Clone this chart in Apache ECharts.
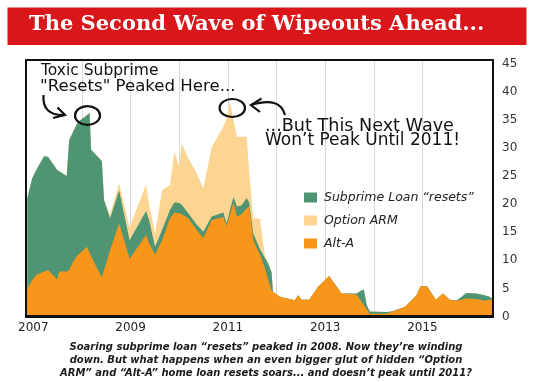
<!DOCTYPE html>
<html><head><meta charset="utf-8">
<script src="https://cdn.jsdelivr.net/npm/echarts@6/dist/echarts.min.js"></script>
<style>html,body{margin:0;padding:0;background:#fff}#c{width:538px;height:382px}</style>
</head><body><div id="c"></div>
<script>
// ---- data (decimal years, shared by all three stacked series) ----
const years = [2006.875, 2006.977, 2007.06, 2007.224, 2007.306, 2007.491, 2007.532, 2007.686, 2007.737, 2007.84,
  2007.922, 2008.107, 2008.158, 2008.189, 2008.409, 2008.456, 2008.579, 2008.764, 2008.98, 2009.318,
  2009.38, 2009.503, 2009.647, 2009.811, 2009.899, 2010.002, 2010.051, 2010.187, 2010.359, 2010.495,
  2010.667, 2010.906, 2010.975, 2011.043, 2011.115, 2011.187, 2011.283, 2011.386, 2011.439, 2011.522,
  2011.659, 2011.762, 2011.83, 2011.899, 2011.926, 2012.07, 2012.378, 2012.446, 2012.515, 2012.671,
  2012.856, 2013.082, 2013.337, 2013.645, 2013.733, 2013.795, 2013.856, 2013.918, 2014.261, 2014.363,
  2014.637, 2014.877, 2014.959, 2015.094, 2015.273, 2015.423, 2015.561, 2015.71, 2015.903, 2016.109,
  2016.279, 2016.382, 2016.444];
const altA = [5.0, 6.5, 7.4, 8.0, 8.3, 6.6, 8.0, 8.0, 8.3, 10.1,
  11.0, 12.4, 11.3, 10.7, 7.0, 8.3, 11.8, 16.6, 10.3, 14.5,
  13.1, 11.0, 13.6, 17.5, 18.5, 18.4, 18.2, 17.5, 15.4, 14.0,
  17.2, 17.7, 16.1, 18.2, 20.2, 17.8, 18.2, 19.3, 19.6, 13.6,
  11.0, 8.6, 6.5, 4.6, 4.4, 3.5, 2.9, 3.8, 3.0, 3.0,
  5.3, 7.2, 4.1, 3.9, 2.8, 2.0, 1.3, 0.5, 0.5, 0.8,
  1.7, 3.8, 5.4, 5.4, 3.0, 4.1, 3.0, 2.8, 3.2, 3.1,
  2.8, 3.0, 3.1];
const subprime = [16.0, 18.1, 18.7, 20.6, 20.1, 19.5, 17.8, 17.0, 23.1, 23.2,
  23.7, 23.5, 25.0, 19.0, 20.7, 12.4, 5.7, 5.9, 3.3, 4.3,
  4.1, 1.4, 1.8, 1.5, 1.8, 1.8, 1.7, 0.9, 1.0, 1.1,
  0.6, 0.8, 0.5, 0.8, 1.1, 1.8, 1.6, 1.8, 0.7, 1.2,
  1.0, 1.8, 2.9, 3.3, 0, 0, 0, 0, 0, 0,
  0, 0, 0, 0.2, 1.8, 2.8, 0.7, 0.4, 0.3, 0.1,
  0, 0, 0, 0, 0, 0, 0, 0.1, 1.0, 1.0,
  1.0, 0.5, 0];
const optionArm = [0, 0, 0, 0, 0, 0, 0, 0, 0, 0,
  0, 0, 0, 0, 0, 0, 0.6, 1.2, 2.3, 4.7,
  2.8, 2.4, 7.1, 4.4, 9.0, 6.5, 10.9, 9.8, 9.1, 7.7,
  12.4, 15.3, 18.7, 19.3, 13.7, 12.4, 12.2, 10.9, 5.4, 2.7,
  5.4, 0.5, 0, 0, 0, 0, 0, 0, 0, 0,
  0, 0, 0, 0, 0, 0, 0, 0, 0, 0,
  0, 0, 0, 0, 0, 0, 0, 0, 0, 0,
  0, 0, 0];
const seriesNames = ['Subprime Loan \u201cresets\u201d', 'Option ARM', 'Alt-A'];
const xLabelYears = [2007, 2009, 2011, 2013, 2015];
const gridYears = [2008, 2009, 2010, 2011, 2012, 2013, 2014, 2015];
const yTicks = [0, 5, 10, 15, 20, 25, 30, 35, 40, 45];
const titleText = 'The Second Wave of Wipeouts Ahead...';
const captionLines = [
  'Soaring subprime loan \u201cresets\u201d peaked in 2008. Now they\u2019re winding',
  'down. But what happens when an even bigger glut of hidden \u201cOption',
  'ARM\u201d and \u201cAlt-A\u201d home loan resets soars... and doesn\u2019t peak until 2011?'
];
const note1 = ['Toxic Subprime', '"Resets" Peaked Here...'];
const note2 = ['...But This Next Wave', 'Won\u2019t Peak Until 2011!'];

// ---- styles ----
const C = { alt: '#F7961B', sub: '#4F9574', opt: '#FDD593', red: '#D9161A', ink: '#111' };
const G = { left: 26, right: 45, top: 60, bottom: 65.5 };
const W = 538, H = 382;

const chart = echarts.init(document.getElementById('c'), null, { renderer: 'canvas' });

// Stack order (bottom -> top): Alt-A, Subprime, Option ARM.
// Each band is drawn as a filled area down to 0 of its cumulative top; upper bands are painted first.
const layers = [altA, subprime, optionArm];
function cumulative(upTo) {
  return years.map((y, i) => {
    let s = 0;
    for (let k = 0; k <= upTo; k++) s += layers[k][i];
    return [y, +s.toFixed(2)];
  });
}
function mk(name, data, color, z) {
  return {
    name, type: 'line', symbol: 'none', silent: true, z,
    data,
    lineStyle: { width: 0, color }, itemStyle: { color },
    areaStyle: { color, opacity: 1 }, emphasis: { disabled: true }
  };
}

const handFont = (size) => 'normal ' + size + 'px "DejaVu Sans"';
const plotW = W - G.left - G.right, plotH = H - G.top - G.bottom;

chart.setOption({
  animation: false,
  backgroundColor: '#fff',
  grid: { left: G.left, right: G.right, top: G.top, bottom: G.bottom, show: false },
  xAxis: {
    type: 'value', min: 2006.85, max: 2016.45,
    axisLine: { show: false },
    axisTick: { show: false, customValues: gridYears },
    splitLine: { show: true, lineStyle: { color: '#dadada', width: 1 } },
    axisLabel: { customValues: xLabelYears, margin: 5, color: '#222', fontFamily: 'DejaVu Sans', fontSize: 12,
      formatter: v => String(v) }
  },
  yAxis: {
    type: 'value', position: 'right', min: 0, max: 45.68,
    axisLine: { show: false }, axisTick: { show: false, customValues: yTicks },
    splitLine: { show: false },
    axisLabel: { customValues: yTicks, margin: 9, color: '#333', fontFamily: 'DejaVu Sans', fontSize: 12 }
  },
  legend: {
    orient: 'vertical', left: 304, top: 190, padding: 0, itemWidth: 13, itemHeight: 10, itemGap: 8,
    icon: 'rect', selectedMode: false,
    textStyle: { fontFamily: 'DejaVu Sans', fontStyle: 'italic', fontSize: 12.5, color: '#222', lineHeight: 15, padding: [0, 0, 0, 2] },
    data: [
      { name: seriesNames[0], itemStyle: { color: C.sub } },
      { name: seriesNames[1], itemStyle: { color: C.opt } },
      { name: seriesNames[2], itemStyle: { color: C.alt } }
    ]
  },
  series: [
    mk(seriesNames[1], cumulative(2), C.opt, 2),
    mk(seriesNames[0], cumulative(1), C.sub, 3),
    mk(seriesNames[2], cumulative(0), C.alt, 4)
  ],
  graphic: [
    { type: 'rect', shape: { x: 7.5, y: 7.5, width: 519, height: 37.5 }, style: { fill: C.red }, z: 10 },
    { type: 'text', x: 29, y: 25, z: 11, style: { text: titleText, fill: '#fff', font: 'bold 21px "DejaVu Serif"', verticalAlign: 'middle' } },
    { type: 'rect', shape: { x: G.left, y: G.top, width: plotW, height: plotH }, style: { fill: 'none', stroke: C.ink, lineWidth: 2 }, z: 50 },
    { type: 'line', shape: { x1: G.left - 1, y1: G.top + plotH, x2: G.left + plotW + 1, y2: G.top + plotH }, style: { stroke: C.ink, lineWidth: 3 }, z: 51 },
    { type: 'text', x: 266, y: 341, z: 20, style: { text: captionLines.join('\n'), align: 'center', verticalAlign: 'top', lineHeight: 13, font: 'italic bold 10px "DejaVu Sans"', fill: '#1a1a1a' } },
    { type: 'text', x: 41, y: 70.5, z: 60, style: { text: note1[0], font: handFont(15.5), fill: C.ink, verticalAlign: 'middle' } },
    { type: 'text', x: 40, y: 86.7, z: 60, style: { text: note1[1], font: handFont(16.6), fill: C.ink, verticalAlign: 'middle' } },
    { type: 'text', x: 265, y: 126, z: 60, style: { text: note2[0], font: handFont(17.6), fill: C.ink, verticalAlign: 'middle' } },
    { type: 'text', x: 265, y: 141, z: 60, style: { text: note2[1], font: handFont(17), fill: C.ink, verticalAlign: 'middle' } },
    { type: 'ellipse', shape: { cx: 87.5, cy: 115.5, rx: 12.5, ry: 9.3 }, style: { fill: 'none', stroke: C.ink, lineWidth: 2.2 }, z: 60 },
    { type: 'ellipse', shape: { cx: 232.3, cy: 108, rx: 12.7, ry: 9 }, style: { fill: 'none', stroke: C.ink, lineWidth: 2.2 }, z: 60 },
    { type: 'bezierCurve', shape: { x1: 43.5, y1: 95, cpx1: 42, cpy1: 116, x2: 65, y2: 115 }, style: { fill: 'none', stroke: C.ink, lineWidth: 2.2 }, z: 60 },
    { type: 'polyline', shape: { points: [[57.5, 107.5], [65, 115], [53, 118]] }, style: { fill: 'none', stroke: C.ink, lineWidth: 2.2 }, z: 60 },
    { type: 'bezierCurve', shape: { x1: 251, y1: 105, cpx1: 280, cpy1: 96, x2: 285, y2: 115 }, style: { fill: 'none', stroke: C.ink, lineWidth: 2.2 }, z: 60 },
    { type: 'polyline', shape: { points: [[261.5, 98.5], [251, 105], [260, 112]] }, style: { fill: 'none', stroke: C.ink, lineWidth: 2.2 }, z: 60 }
  ]
});
</script>
</body></html>
